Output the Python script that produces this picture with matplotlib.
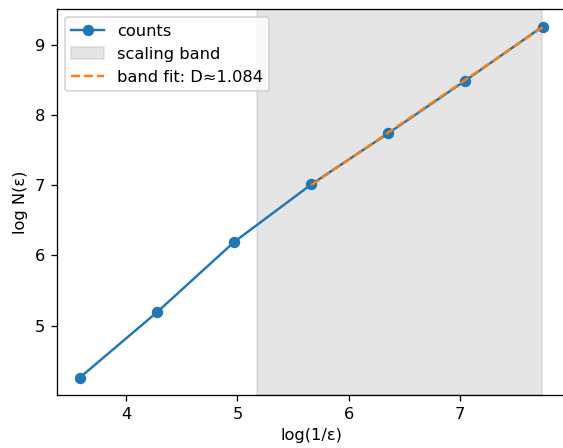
import numpy as np
import matplotlib
matplotlib.use("Agg")
import matplotlib.pyplot as plt

# box sizes eps = 1/36, 1/72, ... ; x = log(1/eps)
inv_eps = [36, 72, 144, 288, 576, 1152, 2304]
log_n = [4.26, 5.19, 6.19, 7.01, 7.74, 8.49, 9.26]
band_lo = 5.175
band_hi = 7.742
band_idx = [3, 4, 5, 6]
fit_label = "band fit: D\u22481.084"

x = np.log(inv_eps)
y = np.array(log_n)

dpi = 117
fig = plt.figure(figsize=(563 / dpi, 448 / dpi), dpi=dpi)
ax = fig.add_axes([0.1007, 0.118, 0.904, 0.862])

ax.plot(x, y, marker="o", label="counts")
ax.axvspan(band_lo, band_hi, color="gray", alpha=0.2, label="scaling band")

xb = x[band_idx]
slope, icpt = np.polyfit(xb, y[band_idx], 1)
ax.plot(xb, slope * xb + icpt, "--", label=fit_label)

ax.set_xlabel("log(1/\u03b5)")
ax.set_ylabel("log N(\u03b5)")
ax.legend(loc="upper left")

fig.savefig("out.png", dpi=dpi)
